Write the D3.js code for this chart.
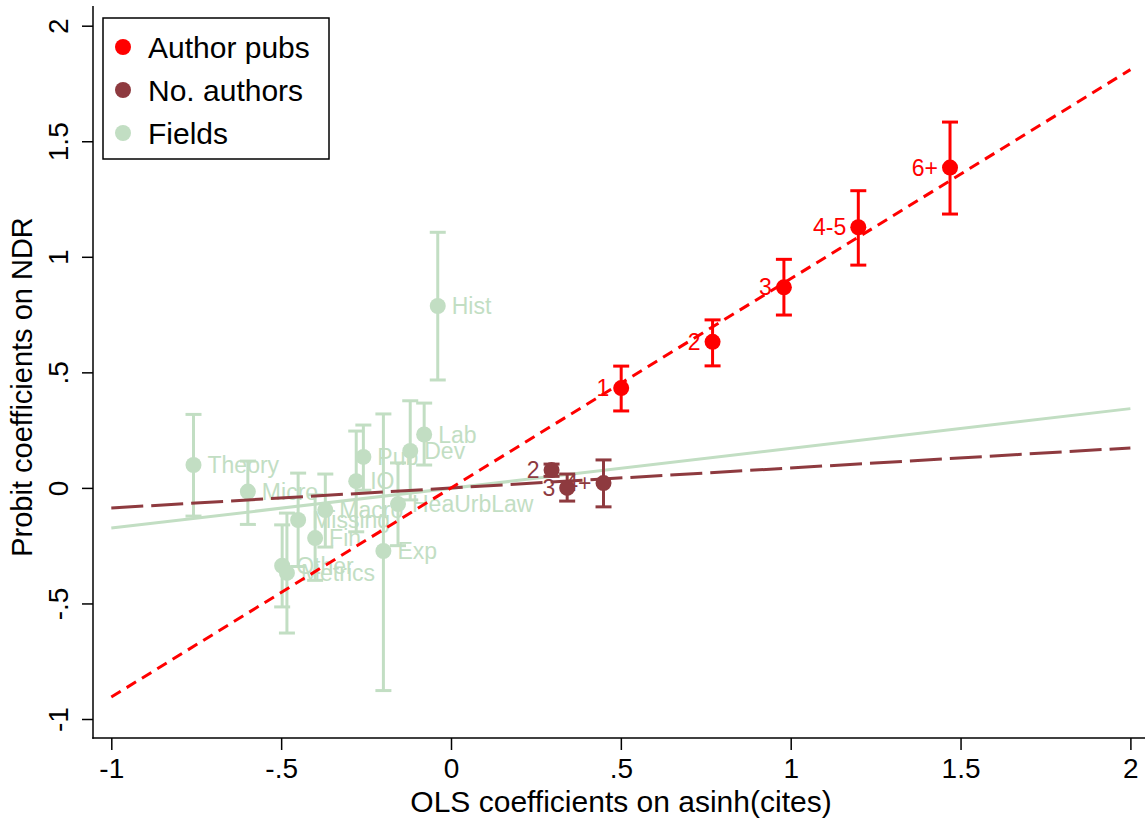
<!DOCTYPE html>
<html>
<head>
<meta charset="utf-8">
<script src="https://cdn.jsdelivr.net/npm/d3@7"></script>
<style>
  html, body { margin: 0; padding: 0; background: #fff; }
  svg { display: block; font-family: "Liberation Sans", Arial, sans-serif; }
</style>
</head>
<body>
<svg id="chart" width="1145" height="825"></svg>
<script>
// ---- Data ----
const pubLabels = ["1", "2", "3", "4-5", "6+"];
const pubX  = [0.501, 0.770, 0.980, 1.199, 1.469];
const pubY  = [0.432, 0.632, 0.868, 1.128, 1.386];
const pubLo = [0.333, 0.528, 0.748, 0.964, 1.185];
const pubHi = [0.527, 0.727, 0.989, 1.286, 1.583];

const authLabels = ["2", "3", "4+"];
const authX  = [0.296, 0.342, 0.449];
const authY  = [0.077, 0.000, 0.021];
const authLo = [0.050, -0.057, -0.082];
const authHi = [0.103, 0.060, 0.121];

const fieldLabels = ["Theory", "Micro", "Hist", "Lab", "Dev", "Pub", "IO", "HeaUrbLaw", "Exp", "Macro", "Missing", "Fin", "Other", "Metrics"];
const fieldX  = [-0.758, -0.598, -0.039, -0.079, -0.120, -0.258, -0.279, -0.156, -0.199, -0.370, -0.450, -0.400, -0.497, -0.483];
const fieldY  = [0.099, -0.016, 0.787, 0.231, 0.160, 0.134, 0.029, -0.070, -0.273, -0.096, -0.139, -0.217, -0.337, -0.368];
const fieldLo = [-0.122, -0.158, 0.467, 0.099, -0.052, -0.010, -0.190, -0.250, -0.877, -0.256, -0.340, -0.400, -0.515, -0.628];
const fieldHi = [0.318, 0.116, 1.106, 0.367, 0.377, 0.272, 0.246, 0.108, 0.320, 0.060, 0.064, -0.030, -0.160, -0.109];

// fitted lines: [x0, x1] -> [y0, y1]
const fitX = [-1, 2];
const pubFitY = [-0.905, 1.810];
const authFitY = [-0.087, 0.173];
const fieldFitY = [-0.174, 0.343];

const xTicks = [-1, -0.5, 0, 0.5, 1, 1.5, 2];
const xTickLabels = ["-1", "-.5", "0", ".5", "1", "1.5", "2"];
const yTicks = [-1, -0.5, 0, 0.5, 1, 1.5, 2];
const yTickLabels = ["-1", "-.5", "0", ".5", "1", "1.5", "2"];

const seriesNames = ["Author pubs", "No. authors", "Fields"];
const seriesColors = ["#ff0000", "#8e3a3f", "#c2dec3"];

// ---- Layout ----
const W = 1145, H = 825;
const plotLeft = 93, plotBottom = 738, plotTop = 6, plotRight = 1145;
const svg = d3.select("#chart");

const x = d3.scaleLinear().domain([-1, 2]).range([111.3, 1130.4]);
const y = d3.scaleLinear().domain([-1, 2]).range([719.0, 25.7]);

const FS = 29;

// Axes
const xAxis = d3.axisBottom(x).tickValues(xTicks)
  .tickFormat((d, i) => xTickLabels[i]).tickSize(12).tickPadding(8);
const gx = svg.append("g").attr("transform", `translate(0,${plotBottom})`).call(xAxis);
gx.select(".domain").remove();
gx.selectAll(".tick line").attr("stroke", "#000").attr("stroke-width", 1.5);
gx.selectAll(".tick text").attr("font-size", 28).attr("fill", "#000")
  .attr("font-family", "Liberation Sans, Arial, sans-serif");

const yAxis = d3.axisLeft(y).tickValues(yTicks)
  .tickFormat((d, i) => yTickLabels[i]).tickSize(11).tickPadding(0);
const gy = svg.append("g").attr("transform", `translate(${plotLeft},0)`).call(yAxis);
gy.select(".domain").remove();
gy.selectAll(".tick line").attr("stroke", "#000").attr("stroke-width", 1.5);
gy.selectAll(".tick text")
  .attr("font-size", 28).attr("fill", "#000")
  .attr("font-family", "Liberation Sans, Arial, sans-serif")
  .attr("x", 0).attr("dy", 0)
  .attr("text-anchor", "middle")
  .attr("transform", "translate(-25,0) rotate(-90)");

// Axis lines
svg.append("line").attr("x1", plotLeft).attr("x2", plotLeft)
  .attr("y1", plotTop).attr("y2", plotBottom + 0.75)
  .attr("stroke", "#000").attr("stroke-width", 1.5);
svg.append("line").attr("x1", plotLeft - 0.75).attr("x2", plotRight)
  .attr("y1", plotBottom).attr("y2", plotBottom)
  .attr("stroke", "#000").attr("stroke-width", 1.5);

// Axis titles
svg.append("text").attr("x", 621).attr("y", 812)
  .attr("text-anchor", "middle").attr("font-size", 30).text("OLS coefficients on asinh(cites)");
svg.append("text").attr("transform", `translate(32,${387}) rotate(-90)`)
  .attr("text-anchor", "middle").attr("font-size", FS).text("Probit coefficients on NDR");

const plot = svg.append("g");

function drawSeries(g, xs, ys, los, his, labels, color, side) {
  const idx = d3.range(xs.length);
  // error bars
  g.selectAll(null).data(idx).enter().append("line")
    .attr("x1", i => x(xs[i])).attr("x2", i => x(xs[i]))
    .attr("y1", i => y(los[i])).attr("y2", i => y(his[i]))
    .attr("stroke", color).attr("stroke-width", 3);
  [los, his].forEach(arr => {
    g.selectAll(null).data(idx).enter().append("line")
      .attr("x1", i => x(xs[i]) - 8).attr("x2", i => x(xs[i]) + 8)
      .attr("y1", i => y(arr[i])).attr("y2", i => y(arr[i]))
      .attr("stroke", color).attr("stroke-width", 3);
  });
  g.selectAll(null).data(idx).enter().append("circle")
    .attr("cx", i => x(xs[i])).attr("cy", i => y(ys[i])).attr("r", 8)
    .attr("fill", color);
  g.selectAll(null).data(idx).enter().append("text")
    .attr("x", i => x(xs[i]) + (side === "left" ? -12 : 14))
    .attr("y", i => y(ys[i]))
    .attr("dy", "0.35em")
    .attr("text-anchor", side === "left" ? "end" : "start")
    .attr("font-size", 23).attr("fill", color)
    .text(i => labels[i]);
}

function drawFit(g, fy, color, dash) {
  g.append("line")
    .attr("x1", x(fitX[0])).attr("x2", x(fitX[1]))
    .attr("y1", y(fy[0])).attr("y2", y(fy[1]))
    .attr("stroke", color).attr("stroke-width", 3)
    .attr("stroke-dasharray", dash);
}

drawSeries(plot.append("g"), fieldX, fieldY, fieldLo, fieldHi, fieldLabels, seriesColors[2], "right");
drawFit(plot, fieldFitY, seriesColors[2], null);
drawFit(plot, authFitY, seriesColors[1], "32,8");
drawFit(plot, pubFitY, seriesColors[0], "11,7");
drawSeries(plot.append("g"), authX, authY, authLo, authHi, authLabels, seriesColors[1], "left");
drawSeries(plot.append("g"), pubX, pubY, pubLo, pubHi, pubLabels, seriesColors[0], "left");

// Legend
const leg = svg.append("g");
leg.append("rect").attr("x", 103).attr("y", 18).attr("width", 226).attr("height", 141)
  .attr("fill", "#fff").attr("stroke", "#000").attr("stroke-width", 1.5);
seriesNames.forEach((name, i) => {
  const cy = 47 + i * 43;
  leg.append("circle").attr("cx", 123).attr("cy", cy).attr("r", 8).attr("fill", seriesColors[i]);
  leg.append("text").attr("x", 148).attr("y", cy).attr("dy", "0.36em")
    .attr("font-size", 30).attr("fill", "#000").text(name);
});
</script>
</body>
</html>
